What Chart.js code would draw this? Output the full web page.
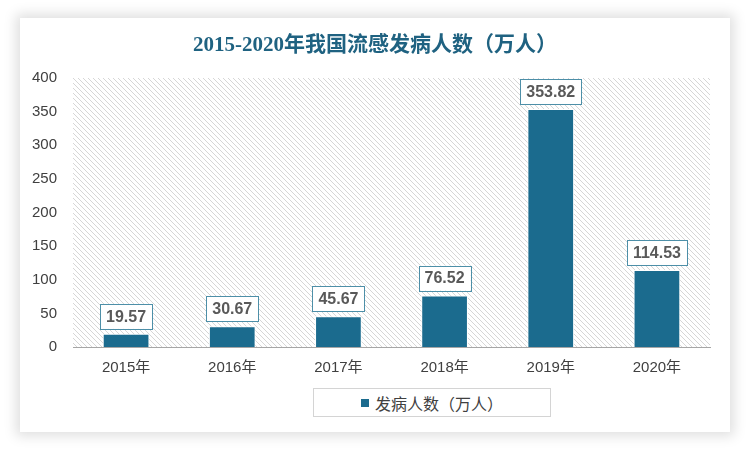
<!DOCTYPE html>
<html>
<head>
<meta charset="utf-8">
<script src="https://cdn.jsdelivr.net/npm/chart.js@4.4.0/dist/chart.umd.min.js"></script>
<style>
	html, body { margin: 0; padding: 0; background: #ffffff; }
	#wrap { position: relative; width: 750px; height: 450px; overflow: hidden; }
	#card {
		position: absolute; left: 20px; top: 18px; width: 710px; height: 414px;
		background: #ffffff; box-shadow: 0 0 12px 4px rgba(0,0,0,0.13);
	}
	#chart { position: absolute; left: 0; top: 0; }
	#title {
		position: absolute; left: 0; top: 31px; width: 750px; text-align: center;
		font-family: "Liberation Serif", "Noto Sans CJK SC", serif; font-size: 21px; font-weight: bold;
		color: #1f6281; line-height: 26px;
	}
	#legend {
		position: absolute; left: 313px; top: 388px; width: 238px; height: 29px;
		border: 1px solid #d4d4d4; background: #fff;
		font-family: "Liberation Sans", "Noto Sans CJK SC", sans-serif; font-size: 16px; color: #404040;
		display: flex; align-items: center; justify-content: center; box-sizing: border-box;
	}
	#legend span.sq { display: inline-block; width: 8px; height: 8px; background: #1b6b8e; margin-right: 6px; }
</style>
</head>
<body>
<div id="wrap">
	<div id="card"></div>
	<canvas id="chart" width="750" height="450"></canvas>
	<div id="title"></div>
	<div id="legend"><span class="sq"></span><span id="legendText"></span></div>
</div>
<script>
const years = ['2015年', '2016年', '2017年', '2018年', '2019年', '2020年'];
const cases = [19.57, 30.67, 45.67, 76.52, 353.82, 114.53];
const seriesName = '发病人数（万人）';
const titleText = '2015-2020年我国流感发病人数（万人）';

const barColor = '#1b6b8e';
const labelFont = 'bold 16px "Liberation Sans", "Noto Sans CJK SC", sans-serif';

document.getElementById('legendText').textContent = seriesName;
document.getElementById('title').textContent = titleText;

function makeHatch() {
	let c = document.createElement('canvas');
	c.width = 5; c.height = 5;
	let g = c.getContext('2d');
	g.strokeStyle = '#d6d6d6';
	g.lineWidth = 1;
	g.beginPath();
	g.moveTo(-1, -1); g.lineTo(6, 6);
	g.moveTo(-1, 4); g.lineTo(1, 6);
	g.moveTo(4, -1); g.lineTo(6, 1);
	g.stroke();
	return c;
}

// hatched plot background
const hatchBg = {
	id: 'hatchBg',
	beforeDraw(chart) {
		const {ctx, chartArea: a} = chart;
		ctx.save();
		ctx.fillStyle = ctx.createPattern(makeHatch(), 'repeat');
		ctx.fillRect(a.left, a.top, a.right - a.left, a.bottom - a.top);
		ctx.restore();
	}
};

// boxed value labels above the bars
const boxLabels = {
	id: 'boxLabels',
	afterDatasetsDraw(chart) {
		const ctx = chart.ctx;
		const meta = chart.getDatasetMeta(0);
		ctx.save();
		ctx.font = labelFont;
		ctx.textAlign = 'center';
		ctx.textBaseline = 'middle';
		meta.data.forEach((bar, i) => {
			let txt = cases[i].toFixed(2);
			let w = ctx.measureText(txt).width + 12;
			let h = 25;
			let x = bar.x - w / 2;
			let y = bar.y - 5 - h;
			ctx.fillStyle = '#ffffff';
			ctx.fillRect(x, y, w, h);
			ctx.strokeStyle = '#4d8fa8';
			ctx.lineWidth = 1;
			ctx.strokeRect(Math.round(x) + 0.5, Math.round(y) + 0.5, Math.round(w), h);
			ctx.fillStyle = '#595959';
			ctx.fillText(txt, bar.x, y + h / 2 + 1);
		});
		ctx.restore();
	}
};

const ctx = document.getElementById('chart');
let chart = new Chart(ctx, {
	type: 'bar',
	data: {
		labels: years,
		datasets: [{
			label: seriesName,
			data: cases,
			backgroundColor: barColor,
			borderColor: '#ffffff',
			borderWidth: 1,
			categoryPercentage: 1,
			barPercentage: 0.44,
		}]
	},
	options: {
		responsive: false,
		animation: false,
		layout: { padding: { left: 20, right: 40, top: 78, bottom: 61 } },
		scales: {
			x: {
				grid: { display: false, drawTicks: false },
				border: { color: '#a6a6a6', width: 1 },
				ticks: {
					color: '#404040', padding: 12,
					font: { size: 15, family: '"Liberation Sans", "Noto Sans CJK SC", sans-serif' },
				},
			},
			y: {
				min: 0, max: 400,
				grid: { display: false, drawTicks: false },
				border: { display: false },
				afterFit: (s) => { s.width = 53; },
				ticks: {
					stepSize: 50, color: '#404040', padding: 16,
					font: { size: 15, family: '"Liberation Sans", "Noto Sans CJK SC", sans-serif' },
				},
			},
		},
		plugins: {
			legend: { display: false },
			tooltip: { enabled: false },
		},
	},
	plugins: [hatchBg, boxLabels],
});
</script>
</body>
</html>
